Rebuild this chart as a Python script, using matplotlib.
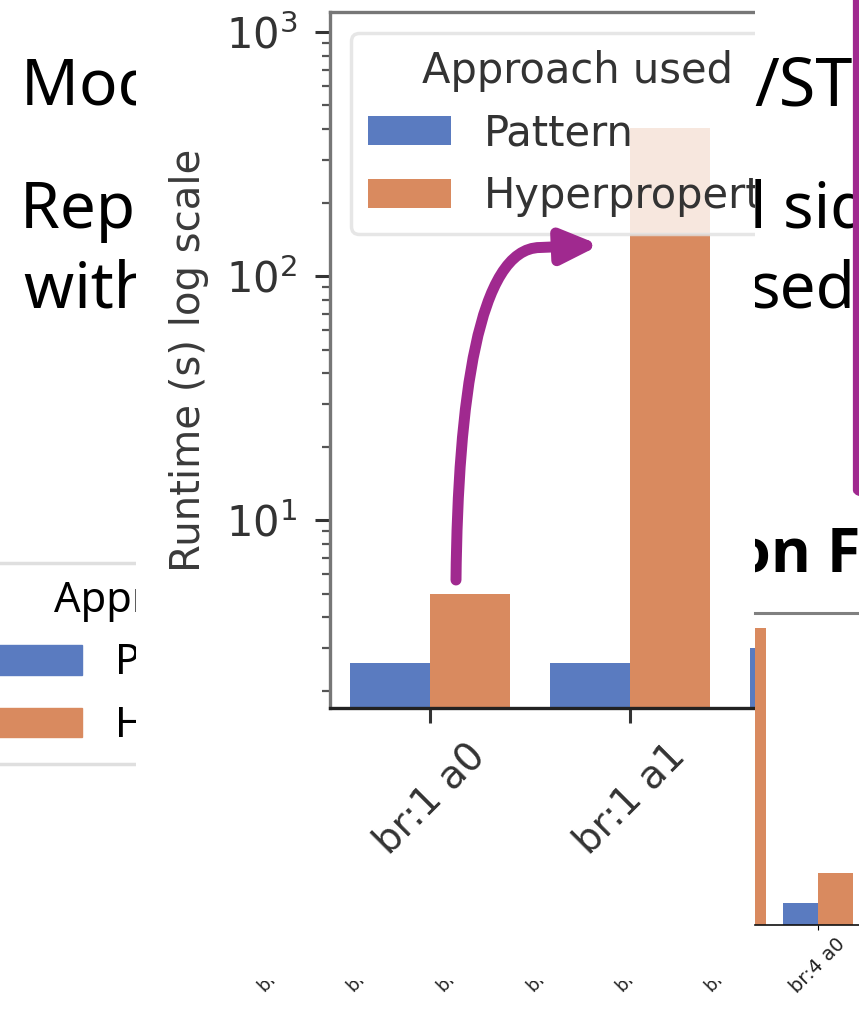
import numpy as np
import matplotlib.pyplot as plt
from matplotlib.patches import Rectangle, Patch, FancyBboxPatch, FancyArrowPatch
from matplotlib.path import Path

W, H = 859, 1027

# zoomed chart: runtime (s) per benchmark, log scale
categories = ["br:1 a0", "br:1 a1", "br:2 a0"]
pattern_rt = [2.6, 2.6, 3.0]
hyper_rt = [5.0, 405, np.nan]

# small chart on the slide, bottom right
small_categories = ["br:3 a1", "br:4 a0"]
small_pattern = [2.7, 2.7]
small_hyper = [880, 5.1]

# tick labels of the slide chart hidden behind the zoom
hidden_labels = ["br:1 a0", "br:1 a1", "br:2 a0", "br:2 a1", "br:3 a0", "br:3 a1"]

BLUE = "#5a7bc0"
ORANGE = "#d98a5f"
PURPLE = "#a0298f"
SLIDE_FONT = ["Noto Sans", "DejaVu Sans"]
BOLD_FONT = ["Open Sans", "DejaVu Sans"]

fig = plt.figure(figsize=(W / 100, H / 100), dpi=100)


def px_axes(x0, y0, x1, y1, z):
    return fig.add_axes([x0 / W, 1 - y1 / H, (x1 - x0) / W, (y1 - y0) / H], zorder=z)


# ---- slide underneath ----
bg = px_axes(0, 0, W, H, 0)
bg.set_xlim(0, W)
bg.set_ylim(H, 0)
bg.axis("off")

bg.text(21, 105, "Model checking HyperLTL", fontsize=46, family=SLIDE_FONT, va="baseline")
bg.text(20, 228, "Represent the temporal", fontsize=46, family=SLIDE_FONT, va="baseline")
bg.text(24, 308, "with the formula", fontsize=46, family=SLIDE_FONT, va="baseline")

handles = [Patch(color=BLUE), Patch(color=ORANGE)]
names = ["Pattern", "Hyperproperty"]
leg_bg = bg.legend(handles, names, title="Approach used", loc="upper left",
                   bbox_to_anchor=(-18, 563), bbox_transform=bg.transData,
                   borderaxespad=0, title_fontsize=30,
                   prop={"family": SLIDE_FONT, "size": 30}, edgecolor="#d8d8d8")
leg_bg.get_frame().set_linewidth(2.5)
leg_bg.get_title().set_family(SLIDE_FONT)

for i, lab in enumerate(hidden_labels):
    bg.text(265 + i * 89.5, 993, lab, rotation=45, rotation_mode="anchor",
            ha="left", va="baseline", fontsize=13, color="#222")

# white zoom panel covering the middle of the slide
bg.add_patch(Rectangle((136, 0), 755 - 136, 981, fc="white", ec="none", zorder=10))

# ---- zoomed chart ----
ax = px_axes(330, 12, 860, 708, 1)
x = np.arange(len(categories))
ax.set_yscale("log")
ax.bar(x - 0.2, pattern_rt, 0.4, color=BLUE, label="Pattern")
ax.bar(x + 0.2, hyper_rt, 0.4, color=ORANGE, label="Hyperproperty")
ax.set_xticks(x)
ax.set_xticklabels(categories, rotation=45, fontsize=28, color="#222")
ax.set_ylim(1.7, 1207)
ax.set_xlim(-0.5, 2.15)
ax.tick_params(axis="y", which="major", length=10.5, width=2.2, labelsize=30,
               pad=13, colors="#333")
ax.tick_params(axis="y", which="minor", length=6, width=1.6, colors="#555")
ax.tick_params(axis="x", length=10.5, width=2.2, pad=10, colors="#333")
ax.set_ylabel("Runtime (s) log scale", fontsize=29, labelpad=12, color="#3a3a3a")
for side in ("left", "top"):
    ax.spines[side].set_color("#777")
    ax.spines[side].set_linewidth(2.4)
ax.spines["bottom"].set_color("#222")
ax.spines["bottom"].set_linewidth(2.4)
leg = ax.legend(title="Approach used", loc="upper left", fontsize=30,
                title_fontsize=30, framealpha=0.8, edgecolor="#e0e0e0")
leg.get_frame().set_linewidth(2.5)
for t in leg.get_texts():
    t.set_color("#333")
leg.get_title().set_color("#333")

# ---- right part of the slide ----
cov = px_axes(755, 0, W, H, 2)
cov.set_xlim(755, W)
cov.set_ylim(H, 0)
cov.axis("off")
cov.add_patch(Rectangle((755, 0), W - 755, H, fc="white", ec="none", zorder=0))
cov.text(754, 105, "/ST", fontsize=48, family=SLIDE_FONT, va="baseline", clip_on=True)
cov.text(750, 228, "l sides", fontsize=46, family=SLIDE_FONT, va="baseline", clip_on=True)
cov.text(750, 308, "sed", fontsize=46, family=SLIDE_FONT, va="baseline", clip_on=True)
cov.text(733, 572, "on Fig", fontsize=44, family=BOLD_FONT, weight="bold",
         va="baseline", clip_on=True)
cov.add_patch(FancyBboxPatch((856, -100), 200, 602,
                             boxstyle="round,pad=0,rounding_size=12",
                             fc="none", ec=PURPLE, lw=4.5, clip_on=True, zorder=3))

# arrow from the small bar to the tall bar
arrow_path = Path([(456, 580), (458, 400), (478, 248), (540, 247.5), (600, 245)],
                  [Path.MOVETO, Path.CURVE4, Path.CURVE4, Path.CURVE4, Path.LINETO])
arrow = FancyArrowPatch(path=arrow_path, arrowstyle="-|>,head_length=22,head_width=10",
                        color=PURPLE, lw=7.9, mutation_scale=1, clip_on=False,
                        transform=cov.transData)
cov.add_patch(arrow)

# ---- small slide chart, bottom right ----
sm = px_axes(755, 613, 870, 925, 3)
xs = np.arange(len(small_categories))
sm.set_yscale("log")
sm.bar(xs - 0.2, small_pattern, 0.4, color=BLUE)
sm.bar(xs + 0.2, small_hyper, 0.4, color=ORANGE)
sm.set_xticks(xs)
sm.set_xticklabels(small_categories, rotation=45, fontsize=14, color="#222")
sm.set_ylim(1.7, 1207)
sm.set_xlim(0.28, 1.594)
sm.tick_params(axis="y", which="both", left=False, labelleft=False)
sm.spines["left"].set_visible(False)
sm.spines["right"].set_visible(False)
sm.spines["top"].set_color("#808080")
sm.spines["top"].set_linewidth(2.2)
sm.spines["bottom"].set_color("#111")
sm.spines["bottom"].set_linewidth(1.2)

fig.savefig("out.png", dpi=100)
